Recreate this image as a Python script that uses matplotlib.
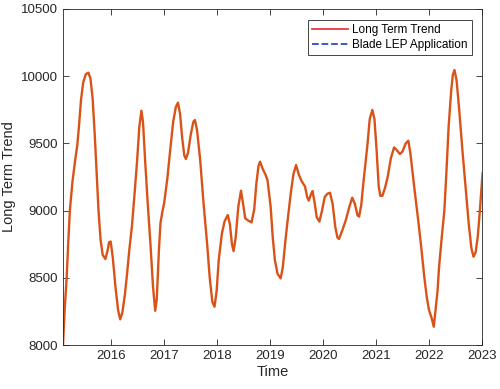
import matplotlib
matplotlib.use("Agg")
import matplotlib.pyplot as plt
from matplotlib.lines import Line2D

plt.rcParams['font.family'] = ['Liberation Sans', 'DejaVu Sans']

time = [2015.09, 2015.12, 2015.16, 2015.19, 2015.22, 2015.27, 2015.32, 2015.36, 2015.39, 2015.43,
        2015.47, 2015.52, 2015.57, 2015.61, 2015.65, 2015.69, 2015.73, 2015.76, 2015.80, 2015.84,
        2015.89, 2015.93, 2015.96, 2015.99, 2016.03, 2016.08, 2016.13, 2016.17, 2016.21, 2016.26,
        2016.30, 2016.34, 2016.39, 2016.44, 2016.49, 2016.53, 2016.57, 2016.60, 2016.64, 2016.69,
        2016.74, 2016.79, 2016.83, 2016.86, 2016.90, 2016.93, 2016.97, 2017.00, 2017.06, 2017.12,
        2017.17, 2017.22, 2017.26, 2017.30, 2017.34, 2017.38, 2017.41, 2017.45, 2017.50, 2017.55,
        2017.58, 2017.62, 2017.68, 2017.74, 2017.81, 2017.86, 2017.91, 2017.95, 2017.99, 2018.03,
        2018.09, 2018.14, 2018.20, 2018.24, 2018.28, 2018.31, 2018.35, 2018.40, 2018.45, 2018.49,
        2018.53, 2018.59, 2018.65, 2018.70, 2018.74, 2018.78, 2018.81, 2018.86, 2018.91, 2018.95,
        2019.01, 2019.05, 2019.09, 2019.14, 2019.20, 2019.24, 2019.29, 2019.34, 2019.39, 2019.44,
        2019.49, 2019.54, 2019.59, 2019.66, 2019.70, 2019.73, 2019.77, 2019.80, 2019.84, 2019.88,
        2019.93, 2019.98, 2020.03, 2020.08, 2020.13, 2020.18, 2020.23, 2020.27, 2020.30, 2020.36,
        2020.43, 2020.49, 2020.55, 2020.60, 2020.65, 2020.68, 2020.72, 2020.76, 2020.80, 2020.84,
        2020.88, 2020.93, 2020.97, 2021.01, 2021.05, 2021.08, 2021.12, 2021.17, 2021.22, 2021.28,
        2021.34, 2021.39, 2021.45, 2021.50, 2021.56, 2021.61, 2021.65, 2021.72, 2021.81, 2021.86,
        2021.91, 2021.96, 2022.00, 2022.05, 2022.09, 2022.12, 2022.16, 2022.19, 2022.24, 2022.29,
        2022.33, 2022.37, 2022.42, 2022.45, 2022.48, 2022.52, 2022.57, 2022.63, 2022.70, 2022.75,
        2022.80, 2022.84, 2022.88, 2022.92, 2022.96, 2023.01]
trend = [8000, 8250, 8508, 8770, 9004, 9220, 9376, 9488, 9620, 9823,
         9950, 10015, 10026, 9980, 9830, 9560, 9250, 9004, 8780, 8670,
         8640, 8700, 8765, 8770, 8650, 8434, 8260, 8191, 8240, 8380,
         8533, 8700, 8880, 9120, 9376, 9620, 9743, 9660, 9376, 9050,
         8757, 8430, 8255, 8340, 8700, 8907, 9000, 9056, 9240, 9475,
         9660, 9770, 9803, 9720, 9540, 9410, 9384, 9430, 9560, 9660,
         9674, 9600, 9376, 9070, 8757, 8500, 8320, 8285, 8400, 8632,
         8831, 8920, 8967, 8900, 8750, 8699, 8800, 9030, 9148, 9050,
         8943, 8925, 8913, 9010, 9200, 9330, 9364, 9310, 9270, 9228,
         9029, 8800, 8632, 8530, 8496, 8580, 8781, 8960, 9129, 9270,
         9339, 9270, 9223, 9178, 9100, 9074, 9120, 9146, 9060, 8950,
         8918, 9000, 9100, 9125, 9133, 9050, 8880, 8800, 8789, 8850,
         8930, 9020, 9096, 9050, 8965, 8955, 9040, 9203, 9350, 9500,
         9680, 9749, 9680, 9450, 9180, 9110, 9110, 9170, 9252, 9390,
         9470, 9450, 9421, 9440, 9500, 9520, 9420, 9178, 8880, 8700,
         8508, 8350, 8260, 8200, 8136, 8250, 8400, 8583, 8800, 9004,
         9300, 9625, 9900, 10010, 10046, 9970, 9749, 9450, 9129, 8900,
         8720, 8657, 8690, 8806, 9000, 9277]
xticks = [2016, 2017, 2018, 2019, 2020, 2021, 2022, 2023]
yticks = [8000, 8500, 9000, 9500, 10000, 10500]

fig = plt.figure(figsize=(5.0, 3.89), dpi=100)
ax = fig.add_axes([0.126, 0.113, 0.838, 0.864])
ax.plot(time, trend, color='#D95319', lw=1.7, solid_joinstyle='round')
ax.set_xlim(2015.09, 2023.0)
ax.set_ylim(8000, 10500)
ax.set_xticks(xticks)
ax.set_xticklabels([str(t) for t in xticks])
ax.set_yticks(yticks)
ax.set_yticklabels([str(t) for t in yticks])
ax.tick_params(direction='in', top=True, right=True, labelsize=9.5,
               colors='#262626', length=4, width=0.6)
for s in ax.spines.values():
    s.set_color('#262626')
    s.set_linewidth(0.6)
ax.set_xlabel('Time', fontsize=10.5, color='#262626', labelpad=2)
ax.set_ylabel('Long Term Trend', fontsize=10.5, color='#262626', labelpad=4)

handles = [Line2D([], [], color='#E8393F', lw=1.3),
           Line2D([], [], color='#2B4BC8', lw=1.3, ls='--')]
leg = ax.legend(handles, ['Long Term Trend', 'Blade LEP Application'],
                loc='upper right', fontsize=8.5, fancybox=False, framealpha=1,
                edgecolor='#262626', borderpad=0.35, labelspacing=0.25,
                handlelength=3.0, handletextpad=0.4, bbox_to_anchor=(0.99, 0.985))
leg.get_frame().set_linewidth(0.6)

fig.savefig('out.png', dpi=100)
